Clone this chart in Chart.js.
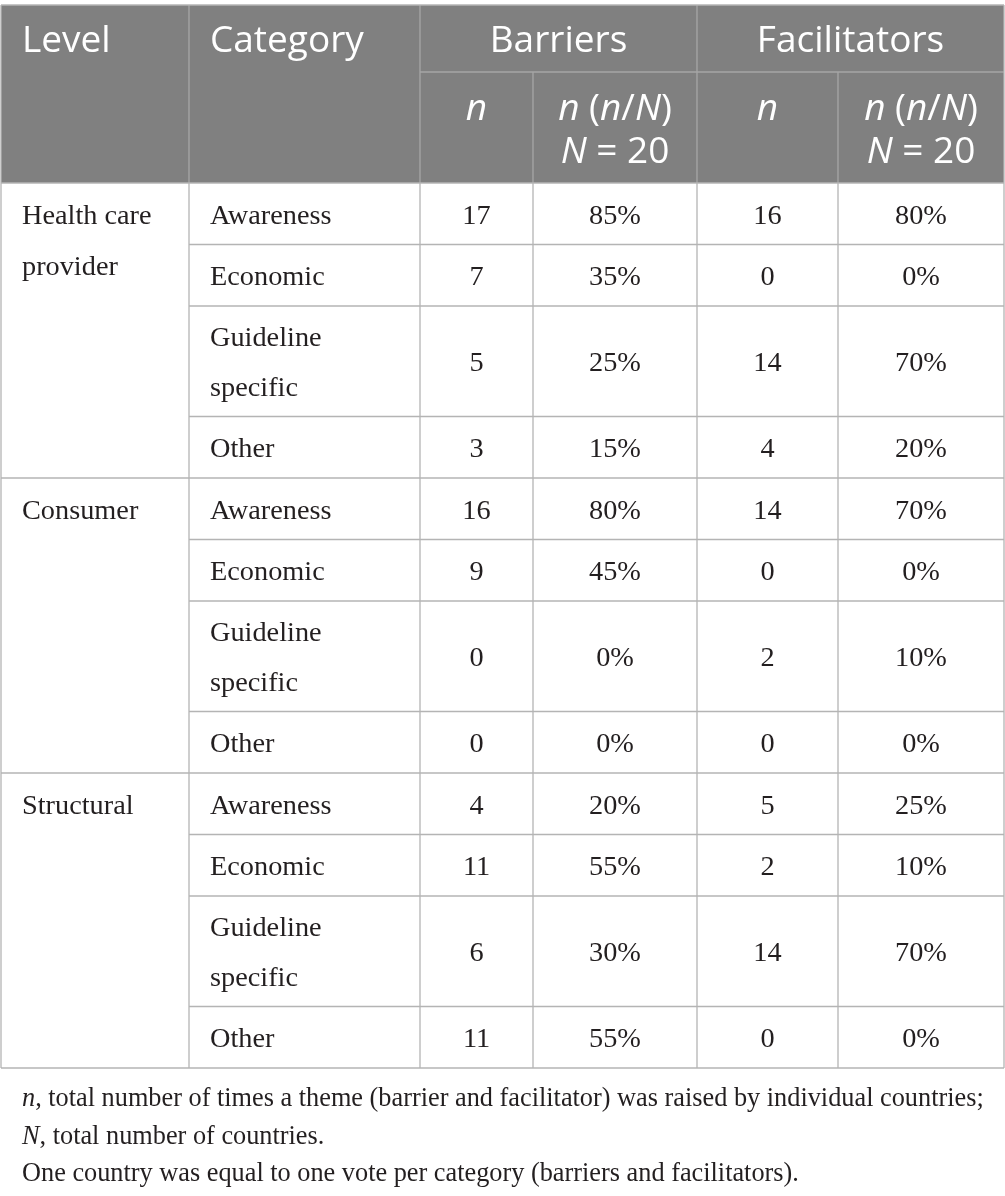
<!DOCTYPE html>
<html>
<head>
<meta charset="utf-8">
<title>Barriers and facilitators</title>
<script src="https://cdn.jsdelivr.net/npm/chart.js@4.4.1/dist/chart.umd.min.js"></script>
<style>
  html, body { margin: 0; padding: 0; background: #fff; }
  #wrap { position: relative; width: 1005px; height: 1196px; }
</style>
</head>
<body>
<div id="wrap"><canvas id="tableChart"></canvas></div>
<script>
// Daten der Tabelle
const levels = ['Health care provider', 'Consumer', 'Structural'];
const categories = ['Awareness', 'Economic', 'Guideline specific', 'Other'];
const barriersN = [17, 7, 5, 3, 16, 9, 0, 0, 4, 11, 6, 11];
const barriersPct = ['85%', '35%', '25%', '15%', '80%', '45%', '0%', '0%', '20%', '55%', '30%', '55%'];
const facilitatorsN = [16, 0, 14, 4, 14, 0, 2, 0, 5, 2, 14, 0];
const facilitatorsPct = ['80%', '0%', '70%', '20%', '70%', '0%', '10%', '0%', '25%', '10%', '70%', '0%'];
const totalCountries = 20;
const footnotes = [
  [['n', true], [', total number of times a theme (barrier and facilitator) was raised by individual countries;', false]],
  [['N', true], [', total number of countries.', false]],
  [['One country was equal to one vote per category (barriers and facilitators).', false]]
];

// Layout (Spaltenbreiten, Zeilenhoehen)
const colWidths = [188, 231, 113, 164, 141, 166];
const headRows = [67, 111];
const singleRow = 61.5;
const doubleRow = 110.5;
const lineGap = 50;

const colEdges = [0];
colWidths.forEach(w => colEdges.push(colEdges[colEdges.length - 1] + w));
const rowEdges = [0, headRows[0], headRows[0] + headRows[1]];
levels.forEach(() => categories.forEach(c => {
  const h = c === 'Guideline specific' ? doubleRow : singleRow;
  rowEdges.push(rowEdges[rowEdges.length - 1] + h);
}));
const tableW = colEdges[colEdges.length - 1];
const tableH = rowEdges[rowEdges.length - 1];

const headFont = (sz, it) => (it ? 'italic ' : '') + sz + 'px "Open Sans", sans-serif';
const bodyFont = (sz, it) => (it ? 'italic ' : '') + sz + 'px "Liberation Serif", serif';

// Text aus Teilen (kursiv / normal) zeichnen
function drawRich(ctx, parts, x, y, align, fontFn, size) {
  let w = 0;
  parts.forEach(p => { ctx.font = fontFn(size, p[1]); w += ctx.measureText(p[0]).width; });
  let cx = align === 'center' ? x - w / 2 : x;
  ctx.textAlign = 'left';
  parts.forEach(p => {
    ctx.font = fontFn(size, p[1]);
    ctx.fillText(p[0], cx, y);
    cx += ctx.measureText(p[0]).width;
  });
}

const tablePlugin = {
  id: 'tablePlugin',
  afterDraw(chart) {
    const { ctx } = chart;
    const xs = chart.scales.x, ys = chart.scales.y;
    const X = v => xs.getPixelForValue(v);
    const Y = v => ys.getPixelForValue(v);
    ctx.save();

    // Kopfzeile
    ctx.fillStyle = '#808080';
    ctx.fillRect(X(0), Y(0), X(tableW) - X(0), Y(rowEdges[2]) - Y(0));

    // Linien
    ctx.lineWidth = 1.3;
    const line = (x1, y1, x2, y2, col) => {
      ctx.strokeStyle = col;
      ctx.beginPath();
      ctx.moveTo(X(x1), Y(y1));
      ctx.lineTo(X(x2), Y(y2));
      ctx.stroke();
    };
    const headLine = '#a6a6a6', bodyLine = '#b4b4b4';
    // Kopf: vertikale Linien
    line(colEdges[1], 0, colEdges[1], rowEdges[2], headLine);
    line(colEdges[2], 0, colEdges[2], rowEdges[2], headLine);
    line(colEdges[4], 0, colEdges[4], rowEdges[2], headLine);
    line(colEdges[3], rowEdges[1], colEdges[3], rowEdges[2], headLine);
    line(colEdges[5], rowEdges[1], colEdges[5], rowEdges[2], headLine);
    line(colEdges[2], rowEdges[1], tableW, rowEdges[1], headLine);
    // Koerper
    for (let c = 1; c < colEdges.length - 1; c++) {
      line(colEdges[c], rowEdges[2], colEdges[c], tableH, bodyLine);
    }
    for (let r = 3; r < rowEdges.length - 1; r++) {
      const startCol = (r - 2) % categories.length === 0 ? 0 : 1;
      line(colEdges[startCol], rowEdges[r], tableW, rowEdges[r], bodyLine);
    }
    line(0, rowEdges[2], tableW, rowEdges[2], bodyLine);
    // Rahmen
    line(0, 0, tableW, 0, bodyLine);
    line(0, tableH, tableW, tableH, bodyLine);
    line(0, 0, 0, tableH, bodyLine);
    line(tableW, 0, tableW, tableH, bodyLine);

    // Kopftext
    ctx.fillStyle = '#ffffff';
    ctx.textBaseline = 'alphabetic';
    const hs = 37;
    const hb1 = Y(0) + 47;
    const mid = (a, b) => (X(colEdges[a]) + X(colEdges[b])) / 2;
    drawRich(ctx, [['Level', false]], X(0) + 21, hb1, 'left', headFont, hs);
    drawRich(ctx, [['Category', false]], X(colEdges[1]) + 21, hb1, 'left', headFont, hs);
    drawRich(ctx, [['Barriers', false]], mid(2, 4), hb1, 'center', headFont, hs);
    drawRich(ctx, [['Facilitators', false]], mid(4, 6), hb1, 'center', headFont, hs);
    const hb2 = Y(rowEdges[1]) + 48;
    const ratio = [['n', true], [' (', false], ['n', true], ['/', false], ['N', true], [')', false]];
    const total = [['N', true], [' = ' + totalCountries, false]];
    [2, 4].forEach(c => {
      drawRich(ctx, [['n', true]], mid(c, c + 1), hb2, 'center', headFont, hs);
      drawRich(ctx, ratio, mid(c + 1, c + 2), hb2, 'center', headFont, hs);
      drawRich(ctx, total, mid(c + 1, c + 2), hb2 + 43, 'center', headFont, hs);
    });

    // Koerpertext
    ctx.fillStyle = '#231f20';
    const bs = 28.3;
    const cellText = (lines, x, r, align) => {
      const cy = (Y(rowEdges[r]) + Y(rowEdges[r + 1])) / 2;
      lines.forEach((t, i) => {
        const by = cy + 10 + (i - (lines.length - 1) / 2) * lineGap;
        drawRich(ctx, [[t, false]], x, by, align, bodyFont, bs);
      });
    };
    levels.forEach((lv, li) => {
      const r0 = 2 + li * categories.length;
      const words = lv === 'Health care provider' ? ['Health care', 'provider'] : [lv];
      const cy0 = (Y(rowEdges[r0]) + Y(rowEdges[r0 + 1])) / 2 + 10;
      words.forEach((w, i) => drawRich(ctx, [[w, false]], X(0) + 21, cy0 + i * 51, 'left', bodyFont, bs));
      categories.forEach((cat, ci) => {
        const k = li * categories.length + ci;
        const r = r0 + ci;
        const catLines = cat === 'Guideline specific' ? ['Guideline', 'specific'] : [cat];
        cellText(catLines, X(colEdges[1]) + 21, r, 'left');
        cellText([String(barriersN[k])], mid(2, 3), r, 'center');
        cellText([barriersPct[k]], mid(3, 4), r, 'center');
        cellText([String(facilitatorsN[k])], mid(4, 5), r, 'center');
        cellText([facilitatorsPct[k]], mid(5, 6), r, 'center');
      });
    });

    // Fussnoten
    const fb = Y(tableH) + 38;
    footnotes.forEach((parts, i) => {
      drawRich(ctx, parts, X(0) + 21, fb + i * 37.5, 'left', bodyFont, 26.3);
    });
    ctx.restore();
  }
};

const chart = new Chart(document.getElementById('tableChart'), {
  type: 'scatter',
  data: { datasets: [{ data: [] }] },
  options: {
    responsive: true,
    maintainAspectRatio: false,
    animation: false,
    layout: { padding: { left: 1, right: 1, top: 5, bottom: 1196 - 5 - tableH } },
    plugins: { legend: { display: false }, tooltip: { enabled: false } },
    scales: {
      x: { type: 'linear', min: 0, max: tableW, display: false },
      y: { type: 'linear', min: 0, max: tableH, reverse: true, display: false }
    }
  },
  plugins: [tablePlugin]
});
</script>
</body>
</html>
